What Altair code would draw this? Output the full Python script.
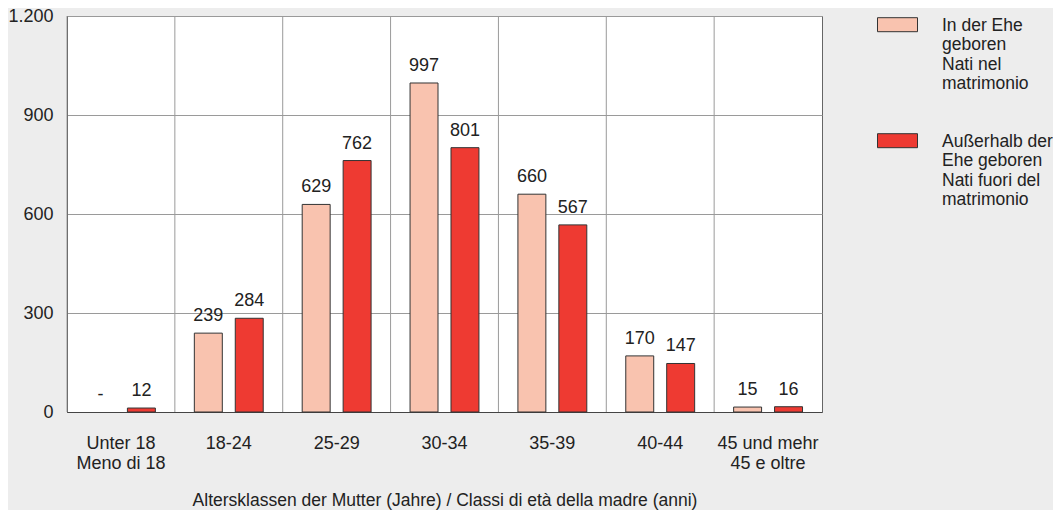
import altair as alt
import pandas as pd

categories = ["Unter 18|Meno di 18", "18-24", "25-29", "30-34", "35-39", "40-44", "45 und mehr|45 e oltre"]
series_names = ["In der Ehe|geboren|Nati nel|matrimonio", "Außerhalb der|Ehe geboren|Nati fuori del|matrimonio"]
in_ehe = [0, 239, 629, 997, 660, 170, 15]
ausserhalb = [12, 284, 762, 801, 567, 147, 16]
colors = ["#f9c3af", "#ee3a32"]

rows = []
for c, a, b in zip(categories, in_ehe, ausserhalb):
    rows.append({"cat": c, "series": series_names[0], "value": a, "label": "-" if a == 0 else str(a)})
    rows.append({"cat": c, "series": series_names[1], "value": b, "label": "-" if b == 0 else str(b)})
df = pd.DataFrame(rows)
grid_df = pd.DataFrame({"cat": categories})

FONT = "Liberation Sans"
FS = 18

x_axis = alt.Axis(title="Altersklassen der Mutter (Jahre) / Classi di età della madre (anni)",
                  labelExpr="split(datum.label, '|')", labelAngle=0, bandPosition=0.5,
                  labelLineHeight=20, labelPadding=22, ticks=False,
                  labelFontSize=FS, labelColor="#222", titleFontSize=17.5,
                  titleFontWeight="normal", titleColor="#222", titlePadding=19,
                  domainColor="#444", grid=False, labelFont=FONT, titleFont=FONT)
x_scale = alt.Scale(paddingInner=0, paddingOuter=0)
y_scale = alt.Scale(domain=[0, 1200], nice=False)
off_scale = alt.Scale(domain=series_names, paddingInner=0.317, paddingOuter=0.476)

grid = alt.Chart(grid_df).mark_rule(color="#9a9a9a", strokeWidth=1).encode(
    x=alt.X("cat:N", sort=categories, bandPosition=0, scale=x_scale, axis=x_axis)
)

bars = alt.Chart(df).transform_filter("datum.value > 0").mark_bar(stroke="#333", strokeWidth=1).encode(
    x=alt.X("cat:N", sort=categories, scale=x_scale, axis=x_axis),
    xOffset=alt.XOffset("series:N", sort=series_names, scale=off_scale),
    y=alt.Y("value:Q", scale=y_scale,
            axis=alt.Axis(values=[0, 300, 600, 900, 1200], title=None, ticks=False,
                          labelExpr="replace(format(datum.value, ','), ',', '.')",
                          labelFontSize=FS, labelColor="#222", labelPadding=14,
                          gridColor="#9a9a9a", domainColor="#444", labelFont=FONT)),
    color=alt.Color("series:N", sort=series_names,
                    scale=alt.Scale(domain=series_names, range=colors),
                    legend=alt.Legend(title=None, orient="none", legendX=810, legendY=-20,
                                      symbolType="M-1,0.06H1V0.76H-1Z", symbolSize=1600,
                                      symbolStrokeColor="#333", symbolStrokeWidth=1,
                                      symbolOpacity=1,
                                      labelExpr="split(datum.label, '|')",
                                      labelFontSize=17.5, labelFont=FONT, labelColor="#222",
                                      labelOffset=24, labelLimit=300, labelBaseline="top",
                                      rowPadding=19, padding=0)),
)

texts = alt.Chart(df).mark_text(baseline="alphabetic", dy=-12, fontSize=FS, font=FONT, color="#222").encode(
    x=alt.X("cat:N", sort=categories, scale=x_scale, axis=x_axis),
    xOffset=alt.XOffset("series:N", sort=series_names, scale=off_scale),
    y=alt.Y("value:Q", scale=y_scale),
    text="label:N",
)

chart = alt.layer(grid, bars, texts).properties(
    width=755, height=396,
    background="#ededed",
    padding={"left": 59, "top": 8, "right": 231, "bottom": 98},
    autosize=alt.AutoSizeParams(type="none"),
).configure_view(fill="white", stroke="#666", strokeWidth=1)

chart.save("out.html", embed_options={"renderer": "svg", "actions": False})
